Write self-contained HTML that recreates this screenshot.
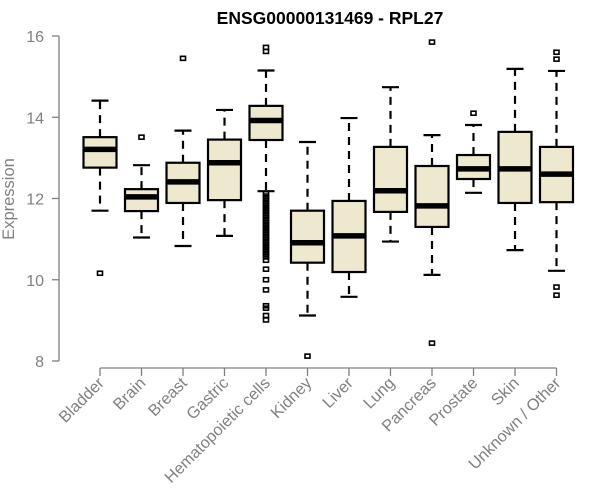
<!DOCTYPE html>
<html><head><meta charset="utf-8"><style>body{margin:0;background:#fff}svg{display:block;font-family:"Liberation Sans",Arial,sans-serif}</style></head>
<body>
<svg id="chart" width="600" height="500" viewBox="0 0 600 500">
<text x="330" y="24" text-anchor="middle" font-weight="bold" font-size="17.5" fill="#000">ENSG00000131469 - RPL27</text>
<text transform="translate(14,199) rotate(-90)" text-anchor="middle" font-size="16.5" fill="#808080">Expression</text>
<g id="marks"></g>
</svg>
<script>
const categories=["Bladder","Brain","Breast","Gastric","Hematopoietic cells","Kidney","Liver","Lung","Pancreas","Prostate","Skin","Unknown / Other"];
const whiskerLow=[11.70,11.04,10.83,11.08,12.18,9.12,9.58,10.94,10.12,12.14,10.73,10.22];
const q1=[12.76,11.69,11.89,11.96,13.44,10.42,10.19,11.67,11.30,12.48,11.89,11.91];
const medians=[13.21,12.04,12.41,12.88,13.92,10.91,11.08,12.19,11.82,12.73,12.73,12.60];
const q3=[13.51,12.23,12.88,13.45,14.28,11.70,11.94,13.27,12.80,13.07,13.64,13.27];
const whiskerHigh=[14.41,12.82,13.67,14.18,15.15,13.39,13.98,14.74,13.56,13.81,15.19,15.14];
const outliers=[[10.16],[13.51],[15.45],[],[15.72,15.62,12.12,12.06,12.00,11.94,11.88,11.82,11.76,11.70,11.64,11.58,11.52,11.46,11.40,11.34,11.28,11.22,11.16,11.10,11.04,10.98,10.92,10.86,10.80,10.74,10.68,10.62,10.56,10.48,10.26,10.00,9.75,9.36,9.30,9.12,9.01],[8.12],[],[],[15.85,8.44],[14.10],[],[15.60,15.43,9.82,9.62]];
const yTicks=[8,10,12,14,16];
const NS="http://www.w3.org/2000/svg";
const g=document.getElementById('marks');
const yS=v=>361-(v-8)*40.625;
const xS=i=>100+i*41.5;
function mk(t,a){const e=document.createElementNS(NS,t);for(const k in a)e.setAttribute(k,a[k]);g.appendChild(e);return e;}
const ax=mk('line',{x1:59,x2:59,y1:yS(16),y2:yS(8),stroke:'#808080','stroke-width':1.3});


yTicks.forEach(v=>{const l=mk('line',{x1:52,x2:59,y1:yS(v),y2:yS(v),stroke:'#808080','stroke-width':1.3});


const t=mk('text',{x:44,y:yS(v)+6,'text-anchor':'end','font-size':16,fill:'#808080'});t.textContent=v;

});
const xa=mk('line',{x1:xS(0),x2:xS(categories.length-1),y1:368,y2:368,stroke:'#808080','stroke-width':1.3});


categories.forEach((c,i)=>{const x=xS(i);
const tk=mk('line',{x1:x,x2:x,y1:368,y2:376,stroke:'#808080','stroke-width':1.3});


const t=mk('text',{transform:`translate(${x+5},${384}) rotate(-45)`,'text-anchor':'end','font-size':16.3,fill:'#808080'});t.textContent=c;


const w=16.5;
const wl=mk('line',{x1:x,x2:x,y1:yS(q3[i]),y2:yS(whiskerHigh[i]),stroke:'#000','stroke-width':2.2,'stroke-dasharray':'8,6'});


const wl2=mk('line',{x1:x,x2:x,y1:yS(q1[i]),y2:yS(whiskerLow[i]),stroke:'#000','stroke-width':2.2,'stroke-dasharray':'8,6'});


[whiskerHigh[i],whiskerLow[i]].forEach(v=>{const cap=mk('line',{x1:x-8.5,x2:x+8.5,y1:yS(v),y2:yS(v),stroke:'#000','stroke-width':2.2});

});
const b=mk('rect',{x:x-w,y:yS(q3[i]),width:2*w,height:yS(q1[i])-yS(q3[i]),fill:'#EEE8CE',stroke:'#000','stroke-width':2.2});


const m=mk('line',{x1:x-w,x2:x+w,y1:yS(medians[i]),y2:yS(medians[i]),stroke:'#000','stroke-width':5.5});


outliers[i].forEach(v=>{const o=mk('rect',{x:x-2.5,y:yS(v)-2,width:5,height:4,fill:'none',stroke:'#000','stroke-width':1.6});

});
});
</script>
</body></html>
